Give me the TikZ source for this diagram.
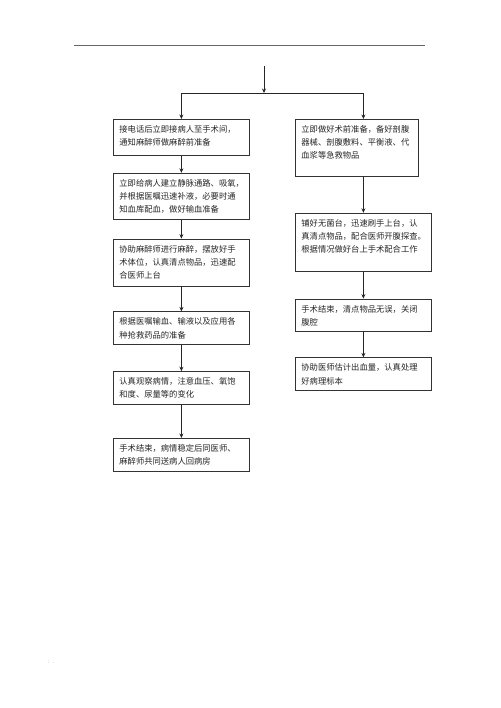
\documentclass[tikz,border=0pt]{standalone}
\usepackage{fontspec}
\newfontfamily\cjk{Noto Sans CJK SC}
\usepackage{tikz}
\usetikzlibrary{arrows.meta, positioning}

\begin{document}
\begin{tikzpicture}[x=1pt, y=-1pt,
  >={Stealth[length=4.5pt, width=4pt]},
  leftbox/.style={rectangle, draw=black!80, line width=.8pt, fill=white,
    text width=124pt, align=left, inner xsep=6pt, inner ysep=0pt,
    text height=13pt, font=\cjk\fontsize{8.3}{13.3}\selectfont, text=black!85},
  %
  rightbox/.style={leftbox},
  %
  flow/.style={->, line width=.7pt, black!85}
  ]

  \useasboundingbox (0,0) rectangle (500,708);

  %%%%%%%%%%%%%%%%%%%%%%%%%%%%%%% header and footer marks
  \draw [black!60, line width=.8pt] (74,45) -- (425,45);
  \node [font=\fontsize{5}{5}\selectfont, text=black!40, inner sep=0pt] (dotmark) at (423,41) {.};
  \node [font=\cjk\fontsize{5}{5}\selectfont, text=black!40, inner sep=0pt] (pagemark) at (52,662) {：．};

  %%%%%%%%%%%%%%%%%%%%%%%%%%%%%%% left column
  \node [leftbox, text depth=23pt, anchor=north west] (call) at (113,119)
    {接电话后立即接病人至手术间，\\通知麻醉师做麻醉前准备};
  \node [leftbox, text depth=33pt, below=17pt of call] (vein)
    {立即给病人建立静脉通路、吸氧，\\并根据医嘱迅速补液，必要时通\\知血库配血，做好输血准备};
  \node [leftbox, text depth=34pt, below=19pt of vein] (anaes)
    {协助麻醉师进行麻醉，摆放好手\\术体位，认真清点物品，迅速配\\合医师上台};
  \node [leftbox, text depth=20pt, below=25pt of anaes] (drugs)
    {根据医嘱输血、输液以及应用各\\种抢救药品的准备};
  \node [leftbox, text depth=20pt, below=26pt of drugs] (watch)
    {认真观察病情，注意血压、氧饱\\和度、尿量等的变化};
  \node [leftbox, text depth=20pt, below=33pt of watch] (ward)
    {手术结束，病情稳定后同医师、\\麻醉师共同送病人回病房};

  %%%%%%%%%%%%%%%%%%%%%%%%%%%%%%% right column
  \node [rightbox, text width=111pt, text depth=44pt, anchor=north west] (prep) at (295,119)
    {立即做好术前准备，备好剖腹\\器械、剖腹敷料、平衡液、代\\血浆等急救物品};
  \node [rightbox, text depth=45pt, below=36pt of prep.south west, anchor=north west] (table)
    {铺好无菌台，迅速刷手上台，认\\真清点物品，配合医师开腹探查。\\根据情况做好台上手术配合工作};
  \node [rightbox, text depth=19pt, below=27pt of table] (close)
    {手术结束，清点物品无误，关闭\\腹腔};
  \node [rightbox, text depth=20pt, below=26pt of close] (sample)
    {协助医师估计出血量，认真处理\\好病理标本};

  %%%%%%%%%%%%%%%%%%%%%%%%%%%%%%% connectors
  \coordinate (start) at (264,66);
  \coordinate (split) at (264,93);
  \draw [flow] (start) -- (split);
  \draw [flow] (split) -| (call.north);
  \draw [flow] (split) -| (table.north |- prep.north);

  \draw [flow] (call) -- (vein);
  \draw [flow] (vein) -- (anaes);
  \draw [flow] (anaes) -- (drugs);
  \draw [flow] (drugs) -- (watch);
  \draw [flow] (watch) -- (ward);

  \draw [flow] (prep.south -| table.north) -- (table.north);
  \draw [flow] (table) -- (close);
  \draw [flow] (close) -- (sample);

\end{tikzpicture}
\end{document}
